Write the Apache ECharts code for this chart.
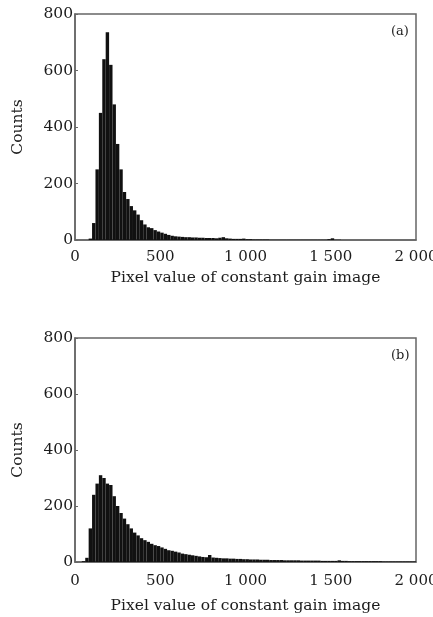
<!DOCTYPE html>
<html>
<head>
<meta charset="utf-8">
<script src="https://cdn.jsdelivr.net/npm/echarts@6/dist/echarts.min.js"></script>
<style>
  html, body { margin: 0; padding: 0; background: #fff; }
  #chart { width: 433px; height: 617px; }
</style>
</head>
<body>
<div id="chart"></div>
<script>
// bin centres (pixel value), bin width 20
const binCenters = [
  10, 30, 50, 70, 90, 110, 130, 150, 170, 190,
  210, 230, 250, 270, 290, 310, 330, 350, 370, 390,
  410, 430, 450, 470, 490, 510, 530, 550, 570, 590,
  610, 630, 650, 670, 690, 710, 730, 750, 770, 790,
  810, 830, 850, 870, 890, 910, 930, 950, 970, 990,
  1010, 1030, 1050, 1070, 1090, 1110, 1130, 1150, 1170, 1190,
  1210, 1230, 1250, 1270, 1290, 1310, 1330, 1350, 1370, 1390,
  1410, 1430, 1450, 1470, 1490, 1510, 1530, 1550, 1570, 1590,
  1610, 1630, 1650, 1670, 1690, 1710, 1730, 1750, 1770, 1790,
  1810, 1830, 1850, 1870, 1890, 1910, 1930, 1950, 1970, 1990
];
// (a) counts
const countsA = [
  0, 0, 0, 0, 5, 60, 250, 450, 640, 735,
  620, 480, 340, 250, 170, 145, 120, 105, 90, 70,
  55, 45, 42, 35, 30, 26, 22, 18, 15, 13,
  12, 11, 10, 10, 9, 9, 8, 8, 7, 7,
  7, 6, 8, 10, 6, 5, 4, 4, 4, 5,
  3, 3, 2, 2, 2, 2, 2, 1, 1, 1,
  1, 1, 1, 1, 1, 1, 1, 1, 1, 1,
  1, 1, 1, 1, 3, 6, 1, 1, 0, 0,
  0, 0, 0, 0, 0, 0, 0, 0, 0, 0,
  0, 0, 0, 0, 0, 0, 0, 0, 0, 0
];
// (b) counts
const countsB = [
  0, 0, 3, 15, 120, 240, 280, 310, 300, 280,
  275, 235, 200, 175, 155, 135, 120, 105, 95, 85,
  78, 72, 65, 60, 57, 52, 47, 42, 40, 37,
  34, 30, 28, 26, 24, 22, 20, 18, 17, 25,
  16, 15, 14, 13, 13, 12, 12, 11, 11, 10,
  10, 9, 9, 9, 8, 8, 8, 7, 7, 7,
  7, 6, 6, 6, 6, 6, 5, 5, 5, 5,
  5, 5, 4, 4, 4, 4, 4, 6, 4, 4,
  3, 3, 3, 3, 3, 3, 3, 3, 3, 3,
  2, 2, 2, 2, 2, 2, 2, 2, 2, 2
];
const panelTags = ['(a)', '(b)'];
const xTitle = 'Pixel value of constant gain image';
const yTitle = 'Counts';

const font = 'DejaVu Serif';
const ink = '#1c1c1c';

function fmtX(v) {
  // "1 000" style thousands
  return v >= 1000 ? Math.floor(v / 1000) + ' ' + String(v % 1000).padStart(3, '0') : String(v);
}

function pairs(ys) {
  return binCenters.map((x, i) => [x, ys[i]]);
}

const grids = [
  { left: 75, right: 17, top: 14, height: 226 },
  { left: 75, right: 17, top: 338, height: 224 }
];
const labelMargin = [10, 12];
const nameGaps = [30, 36];

const chart = echarts.init(document.getElementById('chart'));

const xAxes = grids.map((g, i) => ({
  type: 'value',
  gridIndex: i,
  min: 0,
  max: 2000,
  interval: 500,
  name: xTitle,
  nameLocation: 'middle',
  nameGap: nameGaps[i],
  nameTextStyle: { fontFamily: font, fontSize: 15.5, color: ink },
  axisLine: { show: true, lineStyle: { color: '#666', width: 1.5 } },
  axisTick: { show: false },
  splitLine: { show: false },
  axisLabel: {
    fontFamily: font, fontSize: 15, color: ink, margin: labelMargin[i],
    formatter: fmtX
  }
}));

const yAxes = grids.map((g, i) => ({
  type: 'value',
  gridIndex: i,
  min: 0,
  max: 800,
  interval: 200,
  name: yTitle,
  nameLocation: 'middle',
  nameGap: 49,
  nameTextStyle: { fontFamily: font, fontSize: 15.5, color: ink },
  axisLine: { show: true, lineStyle: { color: '#666', width: 1.5 } },
  axisTick: { show: true, inside: true, length: 3, lineStyle: { color: '#666' } },
  splitLine: { show: false },
  axisLabel: { fontFamily: font, fontSize: 15.5, color: ink, margin: 2 }
}));

chart.setOption({
  backgroundColor: '#fff',
  animation: false,
  title: panelTags.map((t, i) => ({
    text: t,
    left: 386,
    top: i === 0 ? 20 : 344,
    textStyle: { fontFamily: font, fontSize: 13, fontWeight: 'normal', color: ink }
  })),
  grid: grids.map(g => Object.assign({
    show: true, borderColor: '#666', borderWidth: 1.5,
    outerBoundsMode: 'none', containLabel: false
  }, g)),
  xAxis: xAxes,
  yAxis: yAxes,
  series: [countsA, countsB].map((c, i) => ({
    type: 'bar',
    xAxisIndex: i,
    yAxisIndex: i,
    data: pairs(c),
    barWidth: '100%',
    itemStyle: { color: '#111' }
  }))
});
</script>
</body>
</html>
